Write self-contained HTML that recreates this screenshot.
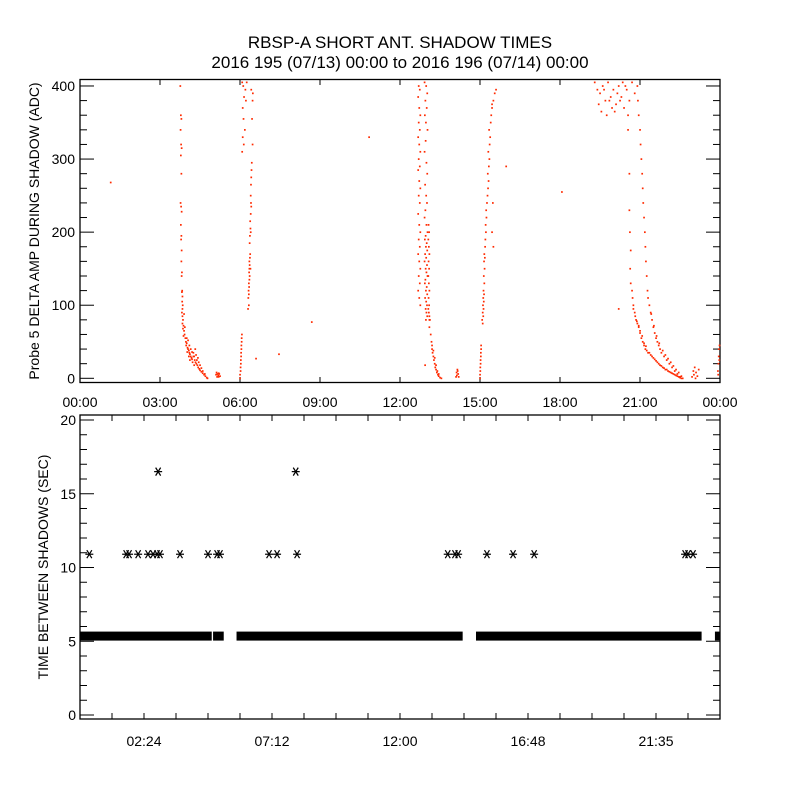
<!DOCTYPE html>
<html><head><meta charset="utf-8"><style>
html,body{margin:0;padding:0;background:#fff}
svg text{font-family:"Liberation Sans",sans-serif;fill:#000}
</style></head><body>
<svg id="c" width="800" height="800" viewBox="0 0 800 800" xmlns="http://www.w3.org/2000/svg">
<text x="400" y="48" font-size="17" text-anchor="middle">RBSP-A SHORT ANT. SHADOW TIMES</text>
<text x="400" y="68" font-size="17" text-anchor="middle">2016 195 (07/13) 00:00 to 2016 196 (07/14) 00:00</text>
<text transform="translate(39,231) rotate(-90)" font-size="14" text-anchor="middle">Probe 5 DELTA AMP DURING SHADOW (ADC)</text>
<text transform="translate(48,567) rotate(-90)" font-size="14" text-anchor="middle">TIME BETWEEN SHADOWS (SEC)</text>
<g id="g1"></g>
<g id="g2"></g>
</svg>
<script>
// ---- top plot data (hours, ADC) ----
const topTickLabels = ["00:00","03:00","06:00","09:00","12:00","15:00","18:00","21:00","00:00"];
const topYTicks = [0,100,200,300,400];
const ampHours = [
3.76,3.78,3.80,3.77,3.79,3.81,3.78,3.80,3.77,3.79,3.81,3.78,3.80,3.79,3.81,3.80,3.82,3.81,3.83,3.82,3.84,3.83,3.85,3.84,
3.82,3.84,3.86,3.84,3.88,3.86,3.90,3.92,3.88,3.95,3.97,4.0,3.98,4.03,4.05,4.08,4.02,4.1,4.12,4.15,4.08,4.18,4.2,4.25,4.28,4.3,4.33,4.22,4.36,4.4,4.38,4.43,4.47,4.5,4.55,4.6,4.65,4.7,4.75,4.78,4.32,4.35,4.42,4.45,4.5,4.55,4.6,4.68,4.0,4.1,4.15,4.2,4.25,4.05,3.93,3.9,4.12,4.28,
5.1,5.12,5.15,5.18,5.2,5.22,5.25,5.14,5.2,
1.15,8.69,7.46,10.84,15.98,18.07,20.2,12.94,6.6,
6.0,6.0,6.02,6.02,6.03,6.03,6.04,6.04,6.05,6.05,6.06,6.06,6.07,
6.08,6.12,6.2,6.25,6.15,6.1,6.22,6.13,6.18,6.42,6.48,6.47,6.45,6.1,6.14,6.08,6.47,6.44,6.43,6.42,6.41,6.4,6.41,6.42,6.4,6.38,6.39,6.4,6.37,6.36,6.38,6.37,6.36,6.35,6.34,6.36,6.35,6.33,6.34,6.32,6.33,6.31,6.33,6.3,6.35,6.39,
12.70,12.74,12.68,12.72,12.76,12.70,12.74,12.68,12.72,12.76,12.70,12.74,12.68,12.72,12.76,12.70,12.74,12.68,12.72,12.76,12.70,12.74,12.68,12.72,12.76,12.70,12.74,12.68,12.72,12.76,
12.92,12.98,13.02,12.95,13.0,12.93,12.97,13.03,12.96,12.92,12.99,13.02,12.94,12.98,13.01,12.95,12.92,12.99,13.03,12.96,12.93,13.0,12.97,13.02,12.94,12.98,12.92,13.01,12.96,12.99,13.03,12.95,12.93,13.0,12.97,13.02,12.94,12.98,13.01,12.96,12.99,13.02,12.97,
13.07,13.09,13.06,13.08,13.1,13.07,13.09,13.06,13.08,13.1,13.07,13.09,13.06,13.08,13.1,13.12,13.1,
13.1,13.15,13.18,13.2,13.22,13.25,13.27,13.3,13.32,13.35,13.38,13.42,13.45,13.5,13.55,13.2,13.25,13.3,13.35,13.4,13.45,
14.1,14.12,14.15,14.18,14.2,14.13,14.16,
15.0,15.0,15.01,15.01,15.02,15.02,15.03,15.03,15.04,15.04,
15.1,15.08,15.12,15.1,15.13,15.11,15.14,15.12,15.15,15.13,15.16,15.14,15.17,15.15,15.18,15.16,15.19,15.2,15.22,15.21,15.24,15.23,15.26,15.28,15.3,15.32,15.29,15.33,15.35,15.31,15.36,15.38,15.34,15.4,15.42,15.45,15.5,15.55,15.6,15.45,15.5,15.45,15.48,
19.3,19.4,19.5,19.6,19.7,19.8,19.9,20.0,20.1,20.2,20.3,20.4,20.5,20.6,20.7,20.8,19.45,19.55,19.75,19.95,20.15,20.35,20.55,20.05,19.65,20.25,19.85,20.45,
20.55,20.6,20.6,20.62,20.65,20.63,20.65,20.7,20.72,20.75,20.8,20.85,20.9,20.95,21.0,21.05,21.1,21.15,21.2,21.25,21.3,21.4,21.5,21.6,21.7,21.8,21.9,22.0,22.1,22.2,22.3,22.4,22.5,22.55,
20.75,20.82,20.88,20.95,21.0,21.08,21.15,21.22,21.35,21.45,21.55,21.65,21.75,21.85,21.95,22.05,22.15,22.25,22.35,22.45,
20.9,20.92,20.95,21.0,21.02,21.05,21.08,21.1,21.12,21.15,21.18,21.2,21.22,21.25,21.28,21.3,
21.35,21.4,21.45,21.5,21.55,21.6,21.65,21.7,21.75,21.8,21.9,22.0,22.1,22.2,22.3,22.4,22.5,22.6,
21.42,21.52,21.62,21.72,21.85,21.95,22.05,22.15,22.25,22.35,22.45,22.55,
22.95,23.0,23.05,23.1,23.15,23.2,23.02,23.08,
23.92,23.94,23.95,23.96,23.97,23.93,23.98
];
const ampValues = [
400,360,355,340,320,315,305,280,240,235,228,210,195,190,175,160,145,140,120,118,112,105,100,95,
90,85,80,75,72,68,65,60,58,55,50,48,45,42,40,38,36,35,33,30,30,28,26,35,30,25,22,22,20,18,25,15,13,11,9,7,5,3,1,0,40,32,28,22,18,14,10,6,55,45,40,36,30,52,70,88,25,18,
5,8,6,4,2,6,3,2,7,
268,77,33,330,290,255,95,18,27,
0,5,10,15,20,25,30,35,40,45,50,55,60,
405,400,395,405,385,370,380,355,340,395,390,380,355,330,320,310,320,295,285,275,265,250,240,235,225,215,205,200,195,185,170,165,155,150,145,140,135,130,125,120,115,110,100,95,160,150,
400,395,385,370,360,350,340,330,320,310,300,290,285,270,260,250,240,225,210,200,190,180,170,160,150,140,130,120,110,100,
405,400,390,380,370,360,350,340,325,310,295,280,265,250,240,230,220,210,200,195,190,185,180,175,170,165,160,155,150,145,140,135,130,125,120,115,110,105,100,95,90,85,80,
210,200,190,180,170,160,150,140,130,120,110,100,95,90,85,80,70,
80,60,50,40,35,30,25,20,15,12,8,5,3,1,0,45,38,28,18,10,6,
2,8,12,6,2,4,10,
0,5,10,15,20,25,30,35,40,45,
75,80,85,90,95,100,105,110,115,120,130,140,150,160,165,170,180,190,200,210,220,230,240,250,260,270,280,290,300,310,320,330,340,350,360,370,380,390,395,375,180,200,240,
405,395,390,400,380,405,385,395,375,400,385,370,395,380,405,390,375,365,360,370,390,405,360,365,395,380,380,400,
340,280,230,200,175,150,130,120,110,100,90,80,75,70,65,55,50,45,40,38,35,32,28,24,20,17,14,12,9,7,5,3,1,0,
95,85,78,72,62,58,48,44,35,30,26,22,18,15,12,10,8,6,4,2,
400,380,360,340,320,300,280,260,240,220,200,180,160,140,120,110,
100,90,80,70,62,55,50,45,40,35,30,25,20,15,10,6,2,0,
88,72,58,48,38,32,27,22,17,12,8,3,
2,10,15,8,3,12,5,0,
10,20,30,40,25,5,45
];
// ---- bottom plot data (hours, seconds) ----
const botTickHours = [2.4,7.2,12,16.8,21.6];
const botTickLabels = ["02:24","07:12","12:00","16:48","21:35"];
const botYTicks = [0,5,10,15,20];
const bandStart = [0, 4.99, 5.87, 14.85, 23.81];
const bandEnd = [4.94, 5.39, 14.35, 23.31, 24];
const bandValue = 5.35;
const starHours = [0.35,1.73,1.84,2.18,2.55,2.74,2.89,3.0,3.75,4.8,5.14,5.25,7.09,7.39,8.14,13.79,14.06,14.18,15.26,16.24,17.03,22.69,22.8,22.99,2.93,8.09];
const starValues = [10.9,10.9,10.9,10.9,10.9,10.9,10.9,10.9,10.9,10.9,10.9,10.9,10.9,10.9,10.9,10.9,10.9,10.9,10.9,10.9,10.9,10.9,10.9,10.9,16.5,16.5];

const NS="http://www.w3.org/2000/svg";
function mk(parent,tag,attrs){const e=document.createElementNS(NS,tag);for(const k in attrs)e.setAttribute(k,attrs[k]);parent.appendChild(e);return e;}
const X0=80,X1=720;
const xS=h=>X0+(X1-X0)*h/24;
const y1=v=>378.3-0.7308*v;
const y2=v=>715-14.75*v;
const g1=document.getElementById('g1'), g2=document.getElementById('g2');

// ---- top plot ----
let f=mk(g1,'rect',{x:80,y:79.5,width:640,height:303,fill:'none',stroke:'#000','stroke-width':1.3});


for(let v=0;v<=400;v+=20){const maj=v%100===0,L=maj?14:7;
 let t=mk(g1,'line',{x1:80,x2:80+L,y1:y1(v),y2:y1(v),stroke:'#000','stroke-width':1});
 
 
 let t2=mk(g1,'line',{x1:720,x2:720-L,y1:y1(v),y2:y1(v),stroke:'#000','stroke-width':1});
 
 }
topYTicks.forEach(v=>{let t=mk(g1,'text',{x:75,y:y1(v)+5,'font-size':14,'text-anchor':'end'});t.textContent=v;
 
 });
topTickLabels.forEach((s,i)=>{const x=xS(i*3);
 let a=mk(g1,'line',{x1:x,x2:x,y1:79.5,y2:85,stroke:'#000'});
 
 
 let b=mk(g1,'line',{x1:x,x2:x,y1:382.5,y2:377,stroke:'#000'});
 
 
 let t=mk(g1,'text',{x:x,y:407,'font-size':14,'text-anchor':'middle'});t.textContent=s;
 
 });
ampHours.forEach((h,i)=>{const v=ampValues[i];
 let p=mk(g1,'rect',{x:xS(h)-0.8,y:Math.max(80,y1(v)-0.8),width:1.7,height:1.7,fill:'#ff2a00'});
 
 });

// ---- bottom plot ----
let f2=mk(g2,'rect',{x:80,y:415,width:640,height:304,fill:'none',stroke:'#000','stroke-width':1.3});


for(let v=0;v<=20;v++){const maj=v%5===0,L=maj?14:7;
 let t=mk(g2,'line',{x1:80,x2:80+L,y1:y2(v),y2:y2(v),stroke:'#000'});
 
 
 let t2=mk(g2,'line',{x1:720,x2:720-L,y1:y2(v),y2:y2(v),stroke:'#000'});
 
 }
botYTicks.forEach(v=>{let t=mk(g2,'text',{x:76,y:y2(v)+5,'font-size':14,'text-anchor':'end'});t.textContent=v;
 
 });
for(let k=0;k<=20;k++){const x=xS(k*1.2);
 let a=mk(g2,'line',{x1:x,x2:x,y1:415,y2:421,stroke:'#000'});
 
 
 let b=mk(g2,'line',{x1:x,x2:x,y1:719,y2:713,stroke:'#000'});
 
 }
botTickLabels.forEach((s,i)=>{let t=mk(g2,'text',{x:xS(botTickHours[i]),y:746,'font-size':14,'text-anchor':'middle'});t.textContent=s;
 
 });
bandStart.forEach((s,i)=>{
 let r=mk(g2,'rect',{x:xS(s),y:y2(bandValue)-4.5,width:xS(bandEnd[i])-xS(s),height:9,fill:'#000'});
 
 });
starHours.forEach((h,i)=>{const cx=xS(h),cy=y2(starValues[i]);
 const s=mk(g2,'g',{stroke:'#000','stroke-width':1.2});
 
 
 mk(s,'line',{x1:cx-4,x2:cx+4,y1:cy,y2:cy});
 mk(s,'line',{x1:cx-2.5,x2:cx+2.5,y1:cy-4,y2:cy+4});
 mk(s,'line',{x1:cx+2.5,x2:cx-2.5,y1:cy-4,y2:cy+4});
});
</script>
</body></html>
